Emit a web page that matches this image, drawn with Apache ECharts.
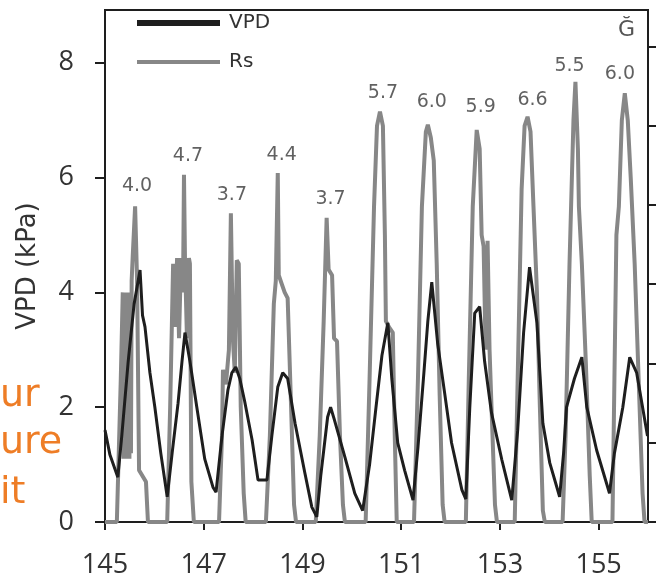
<!DOCTYPE html>
<html>
<head>
<meta charset="utf-8">
<script src="https://cdn.jsdelivr.net/npm/echarts@6/dist/echarts.min.js"></script>
<style>
html,body{margin:0;padding:0;background:#fff;}
#chart{width:656px;height:583px;}
</style>
</head>
<body>
<div id="chart"></div>
<script>
// ---- data (day of year, value) ----
const vpdPoints = [
[145.00,1.6],[145.10,1.17],[145.26,0.78],[145.34,1.5],[145.47,2.8],[145.59,3.8],[145.71,4.39],[145.76,3.6],[145.81,3.4],[145.91,2.6],[146.01,2.0],[146.13,1.2],[146.26,0.44],
[146.36,1.2],[146.48,2.07],[146.56,2.8],[146.62,3.3],[146.72,2.8],[146.86,2.0],[147.02,1.1],[147.19,0.6],[147.25,0.52],
[147.37,1.5],[147.49,2.3],[147.57,2.6],[147.65,2.7],[147.73,2.5],[147.83,2.1],[147.98,1.43],[148.10,0.73],[148.28,0.73],
[148.38,1.5],[148.50,2.35],[148.60,2.6],[148.70,2.5],[148.85,1.72],[149.05,0.85],[149.19,0.26],[149.29,0.09],
[149.37,0.8],[149.51,1.83],[149.57,2.0],[149.64,1.8],[149.86,1.13],[150.06,0.5],[150.22,0.2],
[150.36,1.0],[150.49,2.0],[150.61,2.9],[150.73,3.47],[150.81,2.5],[150.93,1.38],[151.07,0.9],[151.24,0.38],
[151.34,1.3],[151.46,2.6],[151.54,3.5],[151.62,4.18],[151.74,3.1],[151.88,2.25],[152.02,1.38],[152.23,0.56],[152.31,0.4],
[152.39,2.0],[152.49,3.64],[152.59,3.75],[152.69,2.8],[152.83,1.9],[153.04,1.08],[153.24,0.38],
[153.36,1.6],[153.48,3.3],[153.60,4.44],[153.75,3.47],[153.87,1.72],[154.01,1.03],[154.21,0.44],
[154.29,1.2],[154.35,2.0],[154.51,2.5],[154.66,2.87],[154.76,2.0],[154.96,1.25],[155.22,0.5],
[155.32,1.2],[155.49,2.0],[155.63,2.87],[155.77,2.6],[155.99,1.5]
];
const rsPoints = [
[145.00,0],
[145.24,0],[145.32,2.5],[145.36,4.0],[145.375,1.1],[145.39,3.9],[145.405,1.2],[145.42,4.0],[145.435,1.1],[145.45,3.9],[145.465,1.2],[145.48,4.0],[145.495,1.1],[145.51,3.9],[145.526,1.2],[145.54,4.2],[145.56,4.6],[145.61,5.5],[145.65,4.2],[145.69,0.9],[145.83,0.7],[145.87,0],
[146.26,0],[146.32,2.0],[146.38,4.5],[146.42,3.4],[146.46,4.6],[146.50,3.2],[146.54,4.6],[146.58,4.0],[146.60,6.05],[146.62,4.6],[146.66,3.2],[146.70,4.6],[146.72,4.5],[146.75,0.7],[146.80,0],
[147.31,0],[147.37,1.5],[147.39,2.65],[147.45,2.4],[147.51,3.0],[147.55,5.38],[147.59,3.2],[147.63,2.6],[147.67,4.56],[147.71,4.5],[147.75,2.0],[147.81,0.5],[147.85,0],
[148.26,0],[148.34,1.5],[148.42,3.8],[148.46,4.2],[148.50,6.08],[148.52,4.3],[148.58,4.15],[148.64,4.0],[148.70,3.9],[148.77,2.0],[148.83,0.3],[148.87,0],
[149.27,0],[149.35,1.5],[149.43,3.5],[149.49,5.3],[149.53,4.4],[149.60,4.3],[149.64,3.2],[149.70,3.15],[149.76,1.5],[149.82,0.3],[149.86,0],
[150.28,0],[150.36,2.5],[150.45,5.5],[150.51,6.9],[150.57,7.15],[150.63,6.9],[150.67,5.0],[150.69,3.5],[150.75,3.4],[150.83,3.3],[150.87,1.5],[150.91,0],
[151.26,0],[151.34,2.5],[151.42,5.5],[151.50,6.8],[151.54,6.92],[151.60,6.7],[151.66,6.3],[151.72,4.5],[151.78,2.2],[151.84,0.3],[151.88,0],
[152.31,0],[152.37,2.5],[152.45,5.5],[152.53,6.83],[152.59,6.5],[152.63,5.0],[152.67,4.8],[152.71,3.0],[152.75,4.9],[152.79,3.0],[152.83,2.0],[152.90,0.3],[152.94,0],
[153.30,0],[153.36,2.5],[153.44,5.8],[153.50,6.9],[153.56,7.06],[153.62,6.8],[153.68,5.5],[153.75,4.0],[153.81,2.0],[153.87,0.2],[153.91,0],
[154.27,0],[154.33,1.5],[154.41,4.5],[154.49,7.0],[154.53,7.67],[154.58,6.5],[154.60,5.5],[154.66,4.5],[154.74,2.8],[154.82,0.8],[154.86,0],
[155.28,0],[155.32,2.5],[155.36,5.0],[155.41,5.5],[155.47,7.0],[155.53,7.47],[155.59,7.0],[155.65,6.0],[155.73,4.5],[155.81,2.5],[155.89,0.5],[155.93,0],[156.00,0]
];
// peak annotations
const peakLabelX = [145.65,146.68,147.57,148.58,149.57,150.63,151.62,152.61,153.66,154.41,155.43];
const peakLabelY = [5.85,6.38,5.70,6.39,5.63,7.47,7.32,7.23,7.35,7.94,7.80];
const peakLabelText = ['4.0','4.7','3.7','4.4','3.7','5.7','6.0','5.9','6.6','5.5','6.0'];
// ticks
const xTickValues = [145,147,149,151,153,155];
const yTickValues = [0,2,4,6,8];
const rightTickValues = [0,1,2,3,4,5,6];
const seriesNames = ['VPD','Rs'];
const sideWords = ['ur','ure','it'];

const chart = echarts.init(document.getElementById('chart'), null, {renderer:'canvas'});
const axisColor = '#1e1e1e';
const vpdColor = '#1e1e1e';
const rsColor = '#878787';
const legendText = {fontFamily:'DejaVu Sans', fontSize:20, color:'#333', padding:[0,0,0,4]};
const option = {
  animation: false,
  backgroundColor: '#fff',
  grid: {left:105, right:8, top:10, bottom:61, show:true, borderColor:axisColor, borderWidth:2, backgroundColor:'transparent'},
  legend: [
    {orient:'vertical', left:137, top:13, padding:0, itemWidth:83, itemHeight:6,
     textStyle:legendText, data:[{name:seriesNames[0], icon:'rect', itemStyle:{color:vpdColor}}]},
    {orient:'vertical', left:137, top:52, padding:0, itemWidth:83, itemHeight:4,
     textStyle:legendText, data:[{name:seriesNames[1], icon:'rect', itemStyle:{color:rsColor}}]}
  ],
  xAxis: {
    type:'value', min:145, max:156,
    axisLine:{show:true, lineStyle:{color:axisColor, width:2}},
    axisTick:{show:true, customValues:xTickValues, length:8, lineStyle:{color:axisColor, width:2}},
    axisLabel:{customValues:xTickValues, fontFamily:'Open Sans', fontSize:27, color:'#333', margin:30},
    splitLine:{show:false}
  },
  yAxis: [{
    type:'value', min:0, max:8.92, position:'left',
    name:'VPD (kPa)', nameLocation:'middle', nameGap:64,
    nameTextStyle:{fontFamily:'DejaVu Sans', fontSize:26, color:'#333'},
    axisLine:{show:true, lineStyle:{color:axisColor, width:2}},
    axisTick:{show:true, customValues:yTickValues, length:10, lineStyle:{color:axisColor, width:2}},
    axisLabel:{customValues:yTickValues, fontFamily:'Open Sans', fontSize:27, color:'#333', margin:31},
    splitLine:{show:false}
  },{
    type:'value', min:0, max:6.46, position:'right',
    axisLine:{show:true, lineStyle:{color:axisColor, width:2}},
    axisTick:{show:true, customValues:rightTickValues, length:8, lineStyle:{color:axisColor, width:2}},
    axisLabel:{show:false},
    splitLine:{show:false}
  }],
  series: [
    {name:seriesNames[1], type:'line', data:rsPoints, showSymbol:false, symbol:'none', z:2,
     lineStyle:{color:rsColor, width:4}, itemStyle:{color:rsColor}},
    {name:seriesNames[0], type:'line', data:vpdPoints, showSymbol:false, symbol:'none', z:3,
     lineStyle:{color:vpdColor, width:3}, itemStyle:{color:vpdColor}},
    {name:'peaks', type:'scatter', z:4, symbolSize:1, itemStyle:{color:'rgba(0,0,0,0)'},
     data: peakLabelX.map((x,i)=>({value:[x, peakLabelY[i]], label:{formatter:peakLabelText[i]}})),
     label:{show:true, position:'inside', fontFamily:'DejaVu Sans', fontSize:19, color:'#3a3a3a'}}
  ],
  graphic: [
    {type:'text', left:0, top:377, style:{text:sideWords[0], font:'38px "DejaVu Sans"', fill:'#ee7d26'}},
    {type:'text', left:0, top:424, style:{text:sideWords[1], font:'38px "DejaVu Sans"', fill:'#ee7d26'}},
    {type:'text', left:0, top:474, style:{text:sideWords[2], font:'38px "DejaVu Sans"', fill:'#ee7d26'}},
    {type:'text', left:618, top:19, style:{text:'Ğ', font:'22px "DejaVu Sans"', fill:'#555'}}
  ]
};
chart.setOption(option);
</script>
</body>
</html>
